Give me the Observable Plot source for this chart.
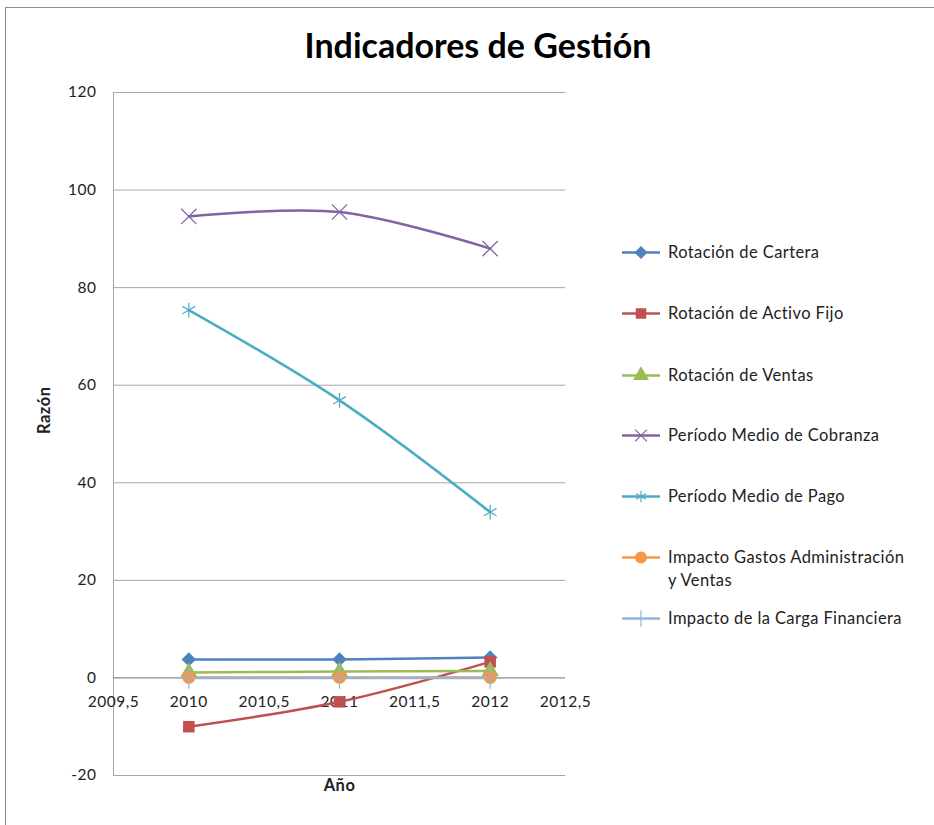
<!DOCTYPE html>
<html>
<head>
<meta charset="utf-8">
<script src="https://cdn.jsdelivr.net/npm/d3@7"></script>
<script src="https://cdn.jsdelivr.net/npm/@observablehq/plot@0.6"></script>
<style>
  html, body { margin: 0; padding: 0; background: #fff; overflow: hidden; }
  body { width: 934px; height: 825px; position: relative; font-family: Lato, "Open Sans", sans-serif; }
  #frame { position: absolute; left: 5px; top: 7px; width: 1000px; height: 1000px; border: 1px solid #8c8c8c; box-sizing: border-box; }
  #title { position: absolute; left: 0; width: 956px; top: 24px; text-align: center; font-weight: bold; font-size: 34px; color: #000; }
  #chart { position: absolute; left: 0; top: 0; }
  #legend { position: absolute; left: 0; top: 0; }
  .item { position: absolute; left: 620px; display: flex; align-items: flex-start; font-size: 16.5px; letter-spacing: 0.4px; color: #222; line-height: 23px; }
  .item svg { flex: none; margin-right: 6px; }
  #chart svg text { letter-spacing: 0.5px; }
</style>
</head>
<body>
<div id="frame"></div>
<div id="title">Indicadores de Gestión</div>
<div id="chart"></div>
<div id="legend"></div>
<script>
// ---- data ----
const years = [2010, 2011, 2012];
const seriesNames = [
  "Rotación de Cartera",
  "Rotación de Activo Fijo",
  "Rotación de Ventas",
  "Período Medio de Cobranza",
  "Período Medio de Pago",
  "Impacto Gastos Administración y Ventas",
  "Impacto de la Carga Financiera"
];
const rotacionCartera = [3.8, 3.8, 4.2];
const rotacionActivoFijo = [-10.0, -4.9, 3.3];
const rotacionVentas = [1.1, 1.3, 1.4];
const periodoCobranza = [94.6, 95.5, 88.0];
const periodoPago = [75.4, 56.9, 34.0];
const impactoGastos = [0.1, 0.1, 0.1];
const impactoCarga = [0.0, 0.0, 0.0];
const seriesValues = [rotacionCartera, rotacionActivoFijo, rotacionVentas, periodoCobranza, periodoPago, impactoGastos, impactoCarga];
const yTicks = [-20, 0, 20, 40, 60, 80, 100, 120];
const xTicks = [2009.5, 2010, 2010.5, 2011, 2011.5, 2012, 2012.5];

const colors = ["#4F81BD", "#C0504D", "#9BBB59", "#8064A2", "#4BACC6", "#F79646", "#95B3D7"];
const symbols = ["diamond2", "square", "triangle", "times", "asterisk", "circle", "plus"];
const filled = [true, true, true, false, false, true, false];

const data = seriesNames.flatMap((s, i) => years.map((yr, j) => ({series: s, idx: i, year: yr, value: seriesValues[i][j]})));

const fmt = v => String(v).replace(".", ",");

const chart = Plot.plot({
  width: 934,
  height: 825,
  marginLeft: 113,
  marginTop: 92,
  marginRight: 369,
  marginBottom: 50,
  style: {fontFamily: "Lato, 'Open Sans', sans-serif", fontSize: "15.5px", color: "#222", background: "transparent"},
  x: {domain: [2009.5, 2012.5], axis: null},
  y: {domain: [-20, 120], axis: null},
  color: {domain: seriesNames, range: colors},
  symbol: {domain: seriesNames, range: symbols},
  marks: [
    Plot.ruleY(yTicks.filter(d => d !== 0), {stroke: "#a6a6a6", strokeWidth: 1}),
    Plot.ruleX([2009.5], {stroke: "#a6a6a6", strokeWidth: 1}),
    Plot.ruleY([0], {stroke: "#8c8c8c", strokeWidth: 1.2}),
    Plot.axisY({ticks: yTicks, tickSize: 0, tickPadding: 17, fontSize: 15.5, label: null, tickFormat: d => String(d)}),
    Plot.text(xTicks, {x: d => d, y: () => 0, text: d => fmt(d), dy: 24, fontSize: 15.5}),
    Plot.text(["Razón"], {frameAnchor: "left", dx: -69, rotate: -90, fontWeight: "bold", fontSize: 16.5}),
    Plot.text(["Año"], {frameAnchor: "bottom", dy: 15, fontWeight: "bold", fontSize: 16.5}),
    Plot.line(data, {x: "year", y: "value", z: "series", stroke: "series", curve: "catmull-rom", strokeWidth: 2.5}),
    Plot.dot(data.filter(d => filled[d.idx]), {x: "year", y: "value", symbol: "series", fill: "series", r: 6.5}),
    Plot.dot(data.filter(d => !filled[d.idx]), {x: "year", y: "value", symbol: "series", stroke: "series", r: 7, strokeWidth: 1.2})
  ]
});
document.getElementById("chart").appendChild(chart);

// ---- legend ----
const legendTops = [241, 302, 364, 424, 485, 546, 607];
const d3Symbols = {diamond2: d3.symbolDiamond2, square: d3.symbolSquare, triangle: d3.symbolTriangle, times: d3.symbolTimes, asterisk: d3.symbolAsterisk, circle: d3.symbolCircle, plus: d3.symbolPlus};
const legend = d3.select("#legend");
seriesNames.forEach((name, i) => {
  const item = legend.append("div").attr("class", "item").style("top", legendTops[i] + "px").style("width", "320px");
  const svg = item.append("svg").attr("width", 42).attr("height", 23);
  svg.append("line").attr("x1", 2).attr("x2", 40).attr("y1", 11.5).attr("y2", 11.5).attr("stroke", colors[i]).attr("stroke-width", 2.5);
  const sym = d3.symbol(d3Symbols[symbols[i]], filled[i] ? 110 : 90);
  svg.append("path").attr("d", sym()).attr("transform", "translate(21,11.5)")
    .attr("fill", filled[i] ? colors[i] : "none").attr("stroke", filled[i] ? "none" : colors[i]).attr("stroke-width", 1.2);
  const label = name === "Impacto Gastos Administración y Ventas" ? "Impacto Gastos Administración<br>y Ventas" : name;
  item.append("span").html(label);
});
</script>
</body>
</html>
